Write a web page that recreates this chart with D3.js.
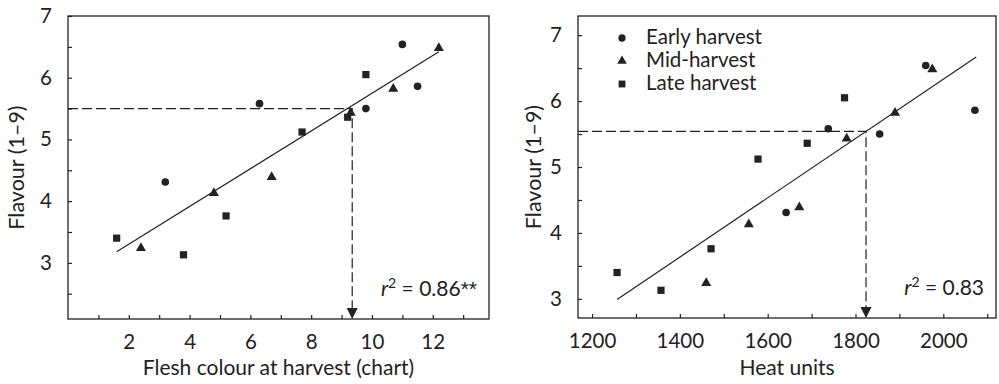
<!DOCTYPE html>
<html>
<head>
<meta charset="utf-8">
<script src="https://cdn.jsdelivr.net/npm/d3@7"></script>
<style>
	body { margin: 0; background: #fff; }
	svg text { font-family: Lato, "Open Sans", sans-serif; fill: #222; }
</style>
</head>
<body>
<script>

// flavour scores (1-9) per harvest group
var earlyFlavour = [4.31, 5.58, 5.5, 6.54, 5.86],
	midFlavour = [3.24, 4.13, 4.39, 5.43, 5.82, 6.48],
	lateFlavour = [3.4, 3.13, 3.76, 5.12, 5.36, 6.05];

// flesh colour at harvest (chart), same order as above
var earlyColour = [3.2, 6.3, 9.8, 11.0, 11.5],
	midColour = [2.4, 4.8, 6.7, 9.3, 10.7, 12.2],
	lateColour = [1.6, 3.8, 5.2, 7.7, 9.2, 9.8];

// heat units, same order as above
var earlyHeat = [1642, 1738, 1855, 1960, 2072],
	midHeat = [1460, 1557, 1672, 1780, 1890, 1975],
	lateHeat = [1257, 1357, 1471, 1578, 1690, 1775];

// fitted lines, end points
var colourFitX = [1.6, 12.2],
	colourFitY = [3.18, 6.42],
	heatFitX = [1257, 2075],
	heatFitY = [2.99, 6.67];

// read-off for flavour target
var colourRead = [9.35, 5.5],
	heatRead = [1824, 5.54];

var groups = ['Early harvest', 'Mid-harvest', 'Late harvest'],
	shapes = [d3.symbolCircle, d3.symbolTriangle, d3.symbolSquare],
	shapeSize = [46, 44, 52];

var colourTicks = d3.range(1, 14),
	heatTicks = d3.range(1200, 2101, 100),
	flavourTicksLeft = d3.range(2.5, 7.01, 0.5),
	flavourTicksRight = d3.range(3, 7.01, 0.5);

var width = 999,
	height = 384,
	ink = '#222';

var svg = d3.select('body')
	.append('svg')
	.attr('width', width)
	.attr('height', height);

// left panel scales
var xL = d3.scaleLinear().domain([0, 13.85]).range([68, 489]),
	yL = d3.scaleLinear().domain([2.09, 7]).range([319, 16]);

// right panel scales
var xR = d3.scaleLinear().domain([1168, 2120]).range([578, 996]),
	yR = d3.scaleLinear().domain([2.71, 7.29]).range([318, 16]);

function pairs(xs, ys) {
	return xs.map(function(d, i) { return [d, ys[i]]; });
}

function panel(x, y, xTicks, xEvery, yTicks, xs, fitX, fitY, read, xTitle, r2, yTitleX) {
	var g = svg.append('g');
	var x0 = x.range()[0], x1 = x.range()[1],
		y0 = y.range()[0], y1 = y.range()[1];

	// axes, ticks pointing inward
	var ax = g.append('g')
		.attr('transform', 'translate(0,' + y0 + ')')
		.call(d3.axisBottom(x)
			.tickValues(xTicks)
			.tickSizeInner(-4)
			.tickSizeOuter(0)
			.tickPadding(15)
			.tickFormat(function(d) { return (d / xEvery) % 2 === 0 ? d : ''; }));
	var ay = g.append('g')
		.attr('transform', 'translate(' + x0 + ',0)')
		.call(d3.axisLeft(y)
			.tickValues(yTicks)
			.tickSizeInner(-4)
			.tickSizeOuter(0)
			.tickPadding(16)
			.tickFormat(function(d) { return d % 1 === 0 ? d : ''; }));
	[ax, ay].forEach(function(a) {
		a.select('.domain').remove();
		a.selectAll('line').attr('stroke', ink).attr('stroke-width', 1.2);
		a.selectAll('text').attr('font-size', 20.5).attr('fill', ink).style('font-family', null);
	});

	// frame
	g.append('rect')
		.attr('x', x0).attr('y', y1)
		.attr('width', x1 - x0).attr('height', y0 - y1)
		.attr('fill', 'none').attr('stroke', ink).attr('stroke-width', 1.3);

	// dashed read-off with arrow
	g.append('path')
		.attr('d', 'M' + x0 + ',' + y(read[1]) + 'H' + x(read[0]) + 'V' + (y0 - 10))
		.attr('fill', 'none').attr('stroke', ink).attr('stroke-width', 1.2)
		.attr('stroke-dasharray', '10,4');
	g.append('path')
		.attr('d', 'M' + (x(read[0]) - 5.5) + ',' + (y0 - 11) + 'h11l-5.5,11z')
		.attr('fill', ink);

	// fitted line
	g.append('path')
		.datum(pairs(fitX, fitY))
		.attr('d', d3.line().x(function(d) { return x(d[0]); }).y(function(d) { return y(d[1]); }))
		.attr('fill', 'none').attr('stroke', ink).attr('stroke-width', 1.2);

	// points per group
	var flav = [earlyFlavour, midFlavour, lateFlavour];
	xs.forEach(function(vals, k) {
		g.selectAll('.p' + k)
			.data(pairs(vals, flav[k]))
			.enter().append('path')
			.attr('transform', function(d) { return 'translate(' + x(d[0]) + ',' + y(d[1]) + ')'; })
			.attr('d', d3.symbol().type(shapes[k]).size(shapeSize[k]))
			.attr('fill', ink);
	});

	// titles
	g.append('text')
		.attr('x', (x0 + x1) / 2).attr('y', 375)
		.attr('text-anchor', 'middle').attr('font-size', 21)
		.text(xTitle);
	g.append('text')
		.attr('transform', 'translate(' + yTitleX + ',' + ((y0 + y1) / 2) + ') rotate(-90)')
		.attr('text-anchor', 'middle').attr('font-size', 21.5)
		.text('Flavour (1–9)');

	var t = g.append('text')
		.attr('x', x1 - 12).attr('y', y0 - 23)
		.attr('text-anchor', 'end').attr('font-size', 21);
	t.append('tspan').attr('font-style', 'italic').text('r');
	t.append('tspan').attr('dy', -8).attr('font-size', 14).text('2');
	var rest = r2.replace(/\*/g, ''),
		stars = r2.length - rest.length;
	t.append('tspan').attr('dy', 8).text(' = ' + rest);
	if (stars) {
		t.append('tspan')
			.attr('fill', ink)
			.style('font-family', '"Liberation Sans", sans-serif')
			.text(r2.slice(rest.length));
	}
	return g;
}

panel(xL, yL, colourTicks, 1, flavourTicksLeft,
	[earlyColour, midColour, lateColour],
	colourFitX, colourFitY, colourRead,
	'Flesh colour at harvest (chart)', '0.86**', 24);

panel(xR, yR, heatTicks, 100, flavourTicksRight,
	[earlyHeat, midHeat, lateHeat],
	heatFitX, heatFitY, heatRead,
	'Heat units', '0.83', 541);

// legend
var legend = svg.append('g').attr('transform', 'translate(622,38)');
groups.forEach(function(name, i) {
	legend.append('path')
		.attr('transform', 'translate(0,' + (i * 23) + ')')
		.attr('d', d3.symbol().type(shapes[i]).size(shapeSize[i] * 0.9))
		.attr('fill', ink);
	legend.append('text')
		.attr('x', 24).attr('y', i * 23 + 6)
		.attr('font-size', 20.5)
		.text(name);
});

</script>
</body>
</html>
